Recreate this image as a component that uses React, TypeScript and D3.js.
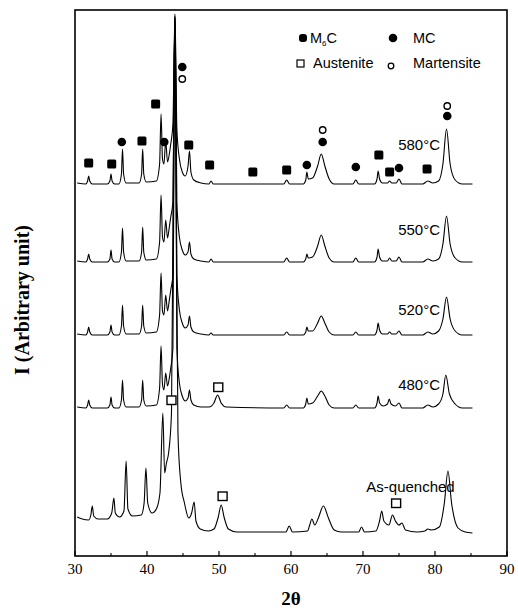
import React from 'react';
import * as d3 from 'd3';

const W = 518;
const H = 614;

const xTicks = [30, 40, 50, 60, 70, 80, 90];
const xMinorTicks = [35, 45, 55, 65, 75, 85];
const traceLabels = ['580°C', '550°C', '520°C', '480°C', 'As-quenched'];
const traceOffsets = [372, 294, 221, 148, 23];
// label anchor [2θ, intensity]
const labelPos: [number, number][] = [[80.7, 406], [80.7, 321], [80.7, 241], [80.7, 166], [76.6, 64]];

const t580: [number, number][] = [
  [30.3, 1], [31.5, 0], [31.75, 3], [31.9, 8], [32.05, 3], [32.4, 0],
  [34.5, 0], [34.85, 3], [35.0, 10], [35.15, 3], [35.5, 0],
  [36.1, 0], [36.45, 10], [36.6, 35], [36.75, 10], [37.1, 1],
  [38.9, 1], [39.25, 10], [39.4, 35], [39.55, 10], [39.9, 2],
  [41.3, 3], [41.75, 20], [41.95, 70], [42.15, 25], [42.35, 20], [42.6, 43], [42.85, 22], [43.1, 30], [43.3, 40],
  [43.6, 60], [43.8, 145], [43.88, 170], [43.96, 145], [44.15, 55], [44.5, 25], [44.9, 12], [45.3, 8], [45.7, 18],
  [45.9, 33], [46.1, 12], [46.5, 4], [47.5, 1],
  [48.6, 0], [48.9, 3], [49.2, 0],
  [59.0, 0], [59.4, 4], [59.8, 0],
  [61.7, 0], [62.05, 4], [62.2, 12], [62.4, 5], [63.0, 6], [63.7, 18], [64.2, 30], [64.7, 18], [65.3, 5], [66.0, 0],
  [68.6, 0], [69.0, 4], [69.4, 0],
  [71.6, 0], [71.95, 5], [72.1, 13], [72.3, 5], [72.7, 1], [73.4, 1], [73.7, 3], [74.0, 1], [74.6, 1], [75.0, 5], [75.4, 0],
  [78.3, 0], [79.0, 3], [79.7, 1], [80.5, 3], [81.1, 20], [81.6, 55], [82.1, 20], [82.8, 4], [83.8, 0], [85.2, 0],
];

const t550: [number, number][] = [
  [30.3, 1], [31.5, 0], [31.75, 3], [31.9, 8], [32.05, 3], [32.4, 0],
  [34.5, 0], [34.85, 3], [35.0, 12], [35.15, 3], [35.5, 0],
  [36.1, 0], [36.45, 10], [36.6, 34], [36.75, 10], [37.1, 1],
  [38.9, 1], [39.25, 10], [39.4, 35], [39.55, 10], [39.9, 2],
  [41.3, 3], [41.75, 20], [41.95, 67], [42.15, 25], [42.35, 20], [42.6, 42], [42.85, 24], [43.1, 35], [43.3, 45],
  [43.6, 60], [43.8, 210], [43.88, 246], [43.96, 210], [44.15, 60], [44.5, 25], [44.9, 12], [45.3, 7], [45.7, 10],
  [45.9, 20], [46.1, 8], [46.5, 3], [47.5, 1],
  [48.6, 0], [48.9, 3], [49.2, 0],
  [59.0, 0], [59.4, 4], [59.8, 0],
  [61.7, 0], [62.05, 3], [62.2, 8], [62.4, 4], [63.0, 5], [63.7, 16], [64.2, 27], [64.7, 16], [65.3, 4], [66.0, 0],
  [68.6, 0], [69.0, 4], [69.4, 0],
  [71.6, 0], [71.95, 5], [72.1, 13], [72.3, 5], [72.7, 1], [73.4, 1], [73.7, 4], [74.0, 1], [74.6, 1], [75.0, 5], [75.4, 0],
  [78.3, 0], [79.0, 3], [79.7, 1], [80.5, 3], [81.1, 18], [81.6, 46], [82.1, 18], [82.8, 4], [83.8, 0], [85.2, 0],
];

const t520: [number, number][] = [
  [30.3, 1], [31.5, 0], [31.75, 3], [31.9, 8], [32.05, 3], [32.4, 0],
  [34.5, 0], [34.85, 3], [35.0, 10], [35.15, 3], [35.5, 0],
  [36.1, 0], [36.45, 9], [36.6, 30], [36.75, 9], [37.1, 1],
  [38.9, 1], [39.25, 9], [39.4, 30], [39.55, 9], [39.9, 2],
  [41.3, 3], [41.75, 20], [41.95, 62], [42.15, 24], [42.35, 20], [42.6, 40], [42.85, 24], [43.1, 35], [43.3, 45],
  [43.6, 60], [43.8, 275], [43.88, 318], [43.96, 275], [44.15, 60], [44.5, 25], [44.9, 12], [45.3, 7], [45.7, 10],
  [45.9, 19], [46.1, 8], [46.5, 3], [47.5, 1],
  [48.6, 0], [48.9, 2], [49.2, 0],
  [59.0, 0], [59.4, 3], [59.8, 0],
  [61.7, 0], [62.05, 3], [62.2, 8], [62.4, 4], [63.0, 4], [63.7, 12], [64.2, 19], [64.7, 12], [65.3, 3], [66.0, 0],
  [68.6, 0], [69.0, 3], [69.4, 0],
  [71.6, 0], [71.95, 5], [72.1, 12], [72.3, 5], [72.7, 1], [73.4, 1], [73.7, 3], [74.0, 1], [74.6, 1], [75.0, 4], [75.4, 0],
  [78.3, 0], [79.0, 3], [79.7, 1], [80.5, 4], [81.1, 16], [81.6, 38], [82.1, 16], [82.8, 4], [83.8, 0], [85.2, 0],
];

const t480: [number, number][] = [
  [30.3, 1], [31.5, 0], [31.75, 3], [31.9, 8], [32.05, 3], [32.4, 0],
  [34.5, 0], [34.85, 3], [35.0, 11], [35.15, 3], [35.5, 0],
  [36.1, 0], [36.45, 8], [36.6, 28], [36.75, 8], [37.1, 1],
  [38.9, 1], [39.25, 8], [39.4, 28], [39.55, 8], [39.9, 2],
  [41.3, 3], [41.75, 20], [41.95, 62], [42.15, 24], [42.35, 18], [42.6, 35], [42.85, 22], [43.1, 30], [43.3, 40],
  [43.6, 60], [43.8, 340], [43.88, 390], [43.96, 340], [44.15, 60], [44.5, 25], [44.9, 12], [45.3, 7], [45.7, 10],
  [45.9, 18], [46.1, 8], [46.5, 3], [47.5, 1],
  [48.6, 1], [49.3, 5], [49.8, 13], [50.3, 5], [51.0, 1],
  [59.0, 0], [59.4, 3], [59.8, 0],
  [61.7, 0], [62.05, 4], [62.2, 10], [62.4, 4], [63.0, 5], [63.7, 12], [64.2, 17], [64.7, 12], [65.3, 3], [66.0, 0],
  [68.6, 0], [69.0, 3], [69.4, 0],
  [71.6, 0], [71.95, 5], [72.1, 12], [72.3, 5], [72.8, 2], [73.4, 4], [73.65, 9], [73.9, 4], [74.5, 2], [75.0, 5], [75.4, 0],
  [78.3, 0], [79.0, 3], [79.7, 1], [80.5, 4], [81.1, 14], [81.5, 33], [82.0, 14], [82.8, 4], [83.8, 0], [85.2, 0],
];

const tAQ: [number, number][] = [
  [30.3, 16], [31.0, 14], [31.9, 13], [32.2, 18], [32.4, 27], [32.6, 17], [33.2, 14], [34.5, 14], [35.1, 20], [35.4, 35],
  [35.6, 20], [36.2, 16], [36.8, 22], [37.1, 72], [37.35, 24], [38.0, 17], [39.2, 18], [39.6, 30], [39.85, 65], [40.1, 30],
  [40.7, 20], [41.3, 24], [41.8, 40], [42.2, 120], [42.45, 60], [42.7, 70], [43.0, 80], [43.4, 120], [43.7, 400],
  [43.85, 510], [44.0, 400], [44.3, 100], [44.7, 50], [45.2, 30], [45.8, 15], [46.2, 20], [46.55, 31], [46.8, 12],
  [47.4, 4], [48.5, 2], [49.3, 4], [49.9, 16], [50.3, 28], [50.7, 16], [51.3, 4], [52.5, 1], [59.3, 1], [59.75, 7],
  [60.2, 1], [62.3, 2], [62.6, 8], [62.9, 14], [63.3, 8], [63.8, 15], [64.5, 27], [65.2, 15], [66.0, 3], [67.0, 1],
  [69.4, 1], [69.8, 6], [70.2, 1], [71.8, 2], [72.3, 12], [72.6, 22], [72.9, 12], [73.6, 8], [74.1, 18], [74.5, 12],
  [75.0, 8], [75.4, 10], [75.9, 3], [77.5, 1], [78.6, 2], [79.0, 4], [79.5, 3], [80.6, 6], [81.3, 30], [81.8, 62],
  [82.3, 30], [83.2, 5], [84.2, 1], [85.2, 0],
];

const traces = [t580, t550, t520, t480, tAQ];

// phase markers [2θ, intensity]
const m6cPts: [number, number][] = [
  [31.9, 393], [35.1, 392], [39.3, 415], [41.2, 452], [45.8, 411], [48.7, 391], [54.7, 384], [59.4, 386],
  [72.2, 401], [73.7, 384], [78.9, 387],
];
const mcPts: [number, number][] = [
  [36.5, 414], [42.4, 414], [44.9, 489], [62.2, 391], [64.4, 414], [69.0, 389], [75.0, 388], [81.7, 440],
];
const austenitePts: [number, number][] = [[43.4, 156], [49.9, 169], [50.5, 60], [74.6, 53]];
const martensitePts: [number, number][] = [[44.9, 477], [64.4, 426], [81.7, 450]];

const SANS = 'Arial, "Liberation Sans", Helvetica, sans-serif';
const SERIF = '"Times New Roman", "Liberation Serif", Times, serif';

export default function App() {
  const x = d3.scaleLinear().domain([30, 90]).range([75, 507]);
  const y = d3.scaleLinear().domain([0, 546]).range([556, 10]);
  const top = y(546);
  const bottom = y(0);

  return (
    <svg width={W} height={H} style={{ position: 'absolute', left: 0, top: 0, background: '#fff' }}>
      <defs>
        <clipPath id="plotclip">
          <rect x={x(30)} y={top} width={x(90) - x(30)} height={bottom - top} />
        </clipPath>
      </defs>
      <rect width={W} height={H} fill="#fff" />
      <g clipPath="url(#plotclip)">
        {traces.map((t, i) => {
          const off = traceOffsets[i];
          const line = d3
            .line<[number, number]>()
            .x((d) => x(d[0]))
            .y((d) => y(d[1] + off))
            .curve(d3.curveMonotoneX);
          return <path key={i} d={line(t) || ''} fill="none" stroke="#000" strokeWidth={1.1} strokeLinejoin="round" />;
        })}
      </g>
      {/* frame */}
      <rect x={x(30)} y={top} width={x(90) - x(30)} height={bottom - top} fill="none" stroke="#000" strokeWidth={1.6} />
      {xTicks.map((t) => (
        <g key={t}>
          <line x1={x(t)} x2={x(t)} y1={bottom} y2={bottom - 5} stroke="#000" strokeWidth={1.2} />
          <text x={x(t)} y={bottom + 18} textAnchor="middle" fontFamily={SERIF} fontSize={15} fill="#000">
            {t}
          </text>
        </g>
      ))}
      {xMinorTicks.map((t) => (
        <line key={t} x1={x(t)} x2={x(t)} y1={bottom} y2={bottom - 3} stroke="#000" strokeWidth={1.1} />
      ))}
      {/* markers */}
      {m6cPts.map((d, i) => (
        <rect key={'s' + i} x={x(d[0]) - 4.5} y={y(d[1]) - 4.5} width={9} height={9} rx={1.5} fill="#000" />
      ))}
      {mcPts.map((d, i) => (
        <circle key={'c' + i} cx={x(d[0])} cy={y(d[1])} r={4.3} fill="#000" />
      ))}
      {austenitePts.map((d, i) => (
        <rect key={'a' + i} x={x(d[0]) - 4.5} y={y(d[1]) - 4} width={9} height={8.5} fill="#fff" stroke="#000" strokeWidth={1.4} />
      ))}
      {martensitePts.map((d, i) => (
        <circle key={'m' + i} cx={x(d[0])} cy={y(d[1])} r={3.2} fill="#fff" stroke="#000" strokeWidth={1.4} />
      ))}
      {/* trace labels */}
      {traceLabels.map((l, i) => (
        <text
          key={l}
          x={x(labelPos[i][0])}
          y={y(labelPos[i][1])}
          textAnchor={i === 4 ? 'middle' : 'end'}
          fontFamily={SANS}
          fontSize={15}
          fill="#000"
        >
          {l}
        </text>
      ))}
      {/* legend */}
      <g fontFamily={SANS} fontSize={14.5} fill="#000">
        <rect x={299} y={34} width={8} height={8} rx={3} fill="#000" />
        <text x={310} y={43}>
          M<tspan fontSize={8} dy={3}>6</tspan>
          <tspan dy={-3}>C</tspan>
        </text>
        <circle cx={393} cy={38} r={4.3} fill="#000" />
        <text x={413} y={43}>MC</text>
        <rect x={297} y={60} width={7} height={7} fill="#fff" stroke="#000" strokeWidth={1.2} />
        <text x={313} y={68}>Austenite</text>
        <circle cx={391} cy={66} r={2.8} fill="#fff" stroke="#000" strokeWidth={1.3} />
        <text x={413} y={68}>Martensite</text>
      </g>
      {/* axis titles */}
      <text x={(x(30) + x(90)) / 2} y={605} textAnchor="middle" fontFamily={SERIF} fontWeight="bold" fontSize={19}>
        2θ
      </text>
      <text
        transform={`translate(29, ${(top + bottom) / 2 + 17}) rotate(-90)`}
        textAnchor="middle"
        fontFamily={SERIF}
        fontWeight="bold"
        fontSize={20}
      >
        I (Arbitrary unit)
      </text>
    </svg>
  );
}
